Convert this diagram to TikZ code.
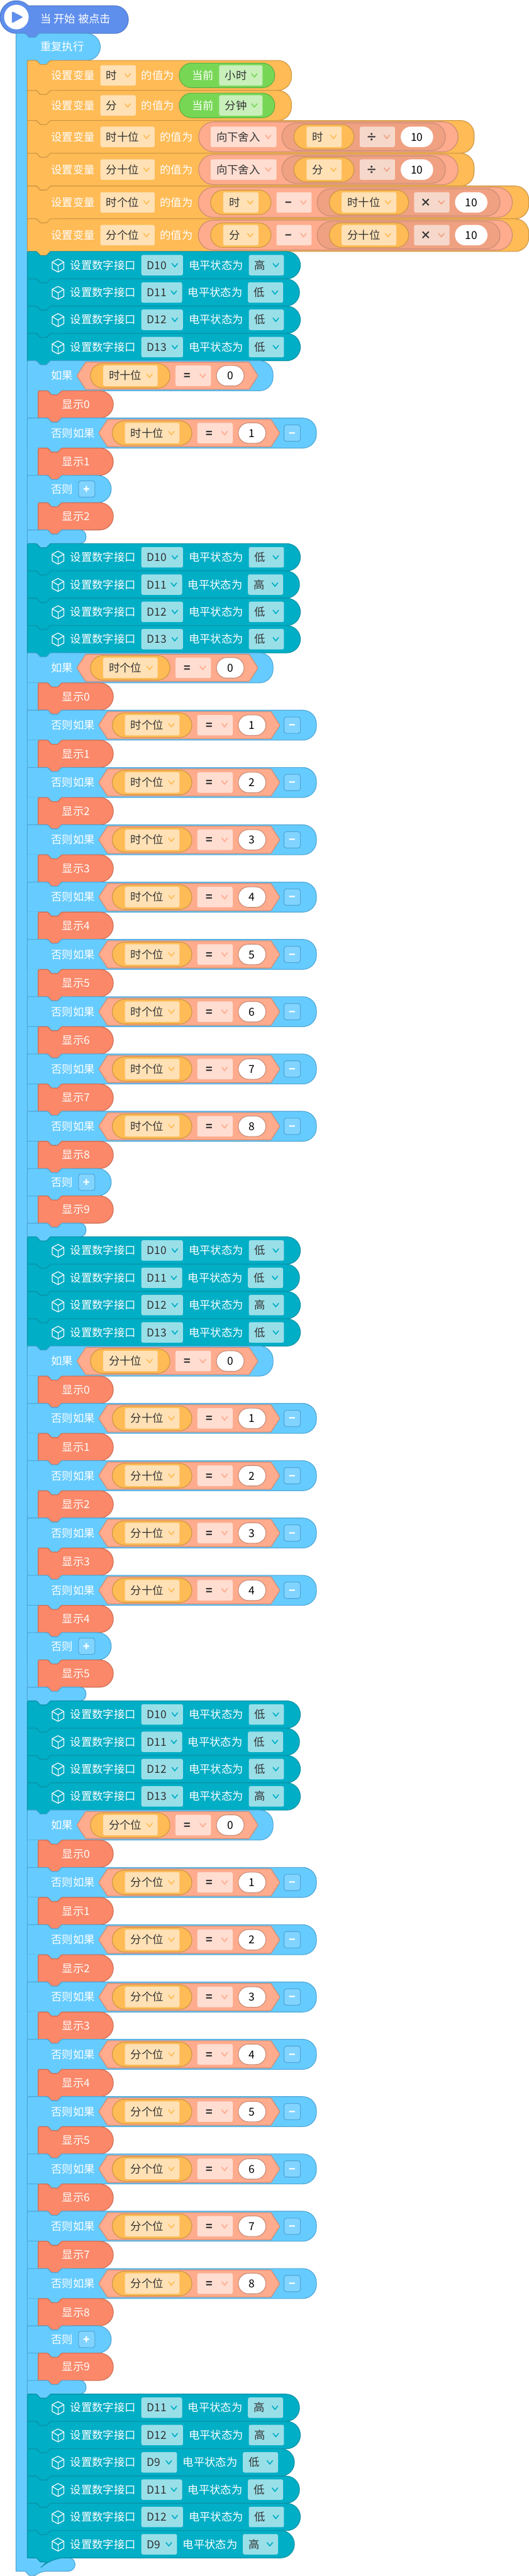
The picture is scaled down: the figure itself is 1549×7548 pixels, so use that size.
\documentclass[tikz,border=0pt]{standalone}
\usepackage{fontspec}
\setmainfont{Noto Sans CJK SC}
\definecolor{HATblue}{HTML}{5F8FEC}
\definecolor{HATline}{HTML}{4F78C8}
\definecolor{LOOPblue}{HTML}{66CCFF}
\definecolor{LOOPline}{HTML}{4FA5D5}
\definecolor{BTNblue}{HTML}{80D4FF}
\definecolor{VARorange}{HTML}{FFBB55}
\definecolor{VARline}{HTML}{CC9644}
\definecolor{VARfield}{HTML}{FFE1B5}
\definecolor{NOWgreen}{HTML}{77D755}
\definecolor{NOWline}{HTML}{5FAE44}
\definecolor{NOWfield}{HTML}{C9EFBB}
\definecolor{OPpink}{HTML}{FFAB8D}
\definecolor{OPline}{HTML}{C98B76}
\definecolor{OPfield}{HTML}{FFDDD1}
\definecolor{OPdark}{HTML}{EFA181}
\definecolor{OPdarkfield}{HTML}{F6D8CB}
\definecolor{PINteal}{HTML}{00AEC6}
\definecolor{PINline}{HTML}{0B92A6}
\definecolor{PINfield}{HTML}{99DFE8}
\definecolor{SHOWred}{HTML}{FA8869}
\definecolor{SHOWline}{HTML}{C96D54}
\definecolor{INKgray}{HTML}{333333}

\newcount\nodeno
\tikzset{
   numbered/.code={\global\advance\nodeno by 1\pgfkeysalso{name=t\the\nodeno}},
   blocktext/.style={numbered, font=\fontsize{32}{36}\selectfont, text=white, inner sep=0pt,
      anchor=west, text height=26pt, text depth=2pt},
   fieldtext/.style={blocktext, text=INKgray},
   numtext/.style={blocktext, text=black, anchor=center},
   optext/.style={blocktext, text=INKgray, anchor=center, font=\fontsize{32}{36}\selectfont\bfseries},
   btntext/.style={blocktext, anchor=center, font=\fontsize{32}{36}\selectfont\bfseries},
   chevron/.style={line width=3pt, line cap=round, line join=round},
   hatblock/.style={fill=HATblue, draw=HATline, line width=2pt, line join=round},
   loopblock/.style={fill=LOOPblue, draw=LOOPline, line width=2pt, line join=round},
   setblock/.style={fill=VARorange, draw=VARline, line width=2pt, line join=round},
   pinblock/.style={fill=PINteal, draw=PINline, line width=2pt, line join=round},
   showblock/.style={fill=SHOWred, draw=SHOWline, line width=2pt, line join=round},
   nowpill/.style={fill=NOWgreen, draw=NOWline, line width=2pt},
   varpill/.style={fill=VARorange, draw=VARline, line width=2pt},
   oppill/.style={fill=OPpink, draw=OPline, line width=2pt, line join=round},
   darkpill/.style={fill=OPdark, draw=OPline, line width=2pt},
   numpill/.style={fill=white, draw=OPline, line width=2pt},
   barepill/.style={fill=white, draw=none},
   btnbox/.style={fill=BTNblue, draw=LOOPline, line width=2pt, rounded corners=7pt},
}

% running top edge of the next block
\newcommand{\rowY}{737}
\newcommand{\rowC}{0}
\newcommand{\nextrow}[1]{\pgfmathsetmacro\rowNext{\rowY+#1}\global\let\rowY\rowNext}
\newcommand{\setcentre}[1]{\pgfmathsetmacro\rowTmp{\rowY+#1/2}\global\let\rowC\rowTmp}

% [corner] x0, y0, x1, height, notch x, tab x, style
\newcommand{\puzzle}[8][40]{
   \draw[#8] [rounded corners=3pt] (#2,{#3+#5}) -- (#2,#3) -- (#6,#3) [sharp corners]
      -- ({#6+11},{#3+12}) -- ({#6+29},{#3+12}) -- ({#6+41},#3)
      [rounded corners=#1pt] -- (#4,#3) -- (#4,{#3+#5}) -- ({#7+41},{#3+#5}) [sharp corners]
      -- ({#7+29},{#3+#5+12}) -- ({#7+11},{#3+#5+12}) -- (#7,{#3+#5}) -- cycle;
}
% x0, x1, centre, half height, style
\newcommand{\pillshape}[5]{
   \draw[#5, rounded corners=#4pt] (#1,{#3-#4}) rectangle (#2,{#3+#4});
}
% x0, x1, centre, text, field colour, chevron colour
\newcommand{\dropfield}[6]{
   \fill[#5, rounded corners=5pt] (#1,{#3-30}) rectangle (#2,{#3+30});
   \node[fieldtext] at ({#1+17},#3) {#4};
   \draw[chevron, #6] ({#2-32},{#3-5}) -- ({#2-24},{#3+5}) -- ({#2-16},{#3-5});
}
\newcommand{\opfield}[6]{
   \fill[#5, rounded corners=5pt] (#1,{#3-30}) rectangle (#2,{#3+30});
   \node[optext] at ({#1+35},#3) {#4};
   \draw[chevron, #6] ({#2-32},{#3-5}) -- ({#2-24},{#3+5}) -- ({#2-16},{#3-5});
}
% x0, x1, centre, number, style
\newcommand{\numfield}[5]{
   \pillshape{#1}{#2}{#3}{30}{#5}
   \node[numtext] at ({(#1+#2)/2},#3) {#4};
}
\newcommand{\pincube}[1]{
   \draw[white, line width=2.2pt, line join=round] (170,{#1-18}) -- (187,{#1-9}) -- (187,{#1+11})
      -- (170,{#1+20}) -- (153,{#1+11}) -- (153,{#1-9}) -- cycle;
   \draw[white, line width=2.2pt, line join=round] (153,{#1-9}) -- (170,{#1+1}) -- (187,{#1-9});
   \draw[white, line width=2.2pt] (170,{#1+1}) -- (170,{#1+20});
}
% pin, right end of the pin field, level
\newcommand{\pinrow}[3]{
   \setcentre{80}
   \puzzle{80}{\rowY}{#2+344}{80}{107}{107}{pinblock}
   \pincube{\rowC}
   \node[blocktext] at (206,\rowC) {设置数字接口};
   \dropfield{414}{#2}{\rowC}{#1}{PINfield}{PINteal}
   \node[blocktext] at ({#2+17},\rowC) {电平状态为};
   \dropfield{#2+193}{#2+296}{\rowC}{#3}{PINfield}{PINteal}
   \nextrow{80}
}
% offset, variable, number
\newcommand{\condition}[3]{
   \draw[oppill, rounded corners=2pt] ({225+#1},\rowC) -- ({251+#1},{\rowC-40}) -- ({730+#1},{\rowC-40})
      -- ({756+#1},\rowC) -- ({730+#1},{\rowC+40}) -- ({251+#1},{\rowC+40}) -- cycle;
   \pillshape{265+#1}{498+#1}{\rowC}{36}{varpill}
   \dropfield{302+#1}{462+#1}{\rowC}{#2}{VARfield}{VARorange}
   \opfield{514+#1}{618+#1}{\rowC}{=}{OPfield}{OPpink}
   \numfield{634+#1}{715+#1}{\rowC}{#3}{numpill}
}
\newcommand{\ifrow}[2]{
   \setcentre{88}
   \puzzle{80}{\rowY}{800}{88}{107}{140}{loopblock}
   \node[blocktext] at (150,\rowC) {如果};
   \condition{0}{#1}{#2}
   \nextrow{88}
}
\newcommand{\elifrow}[2]{
   \setcentre{88}
   \puzzle{80}{\rowY}{927}{87.9}{140}{140}{loopblock}
   \node[blocktext] at (150,\rowC) {否则如果};
   \condition{64}{#1}{#2}
   \draw[btnbox] (832,{\rowC-24}) rectangle (880,{\rowC+24});
   \node[btntext] at (856,\rowC) {−};
   \nextrow{87.9}
}
\newcommand{\showrow}[1]{
   \setcentre{80}
   \fill[LOOPblue] (81,\rowY) rectangle (114,{\rowY+80});
   \draw[LOOPline, line width=2pt] (80,\rowY) -- (80,{\rowY+80});
   \puzzle{112}{\rowY}{332}{80}{140}{140}{showblock}
   \node[blocktext] at (182,\rowC) {显示#1};
   \nextrow{80}
}
\newcommand{\elserow}{
   \setcentre{80}
   \puzzle{80}{\rowY}{326}{80}{140}{140}{loopblock}
   \node[blocktext] at (150,\rowC) {否则};
   \draw[btnbox] (230,{\rowC-24}) rectangle (278,{\rowC+24});
   \node[btntext] at (254,\rowC) {+};
   \nextrow{80}
}
\newcommand{\capend}{
   \puzzle[18]{80}{\rowY}{252}{40}{140}{107}{loopblock}
   \nextrow{40}
}
% height, right end, variable, right end of its field
\newcommand{\setstart}[4]{
   \setcentre{#1}
   \puzzle{80}{\rowY}{#2}{#1}{107}{107}{setblock}
   \node[blocktext] at (150,\rowC) {设置变量};
   \dropfield{294}{#4}{\rowC}{#3}{VARfield}{VARorange}
   \node[blocktext] at ({#4+16},\rowC) {的值为};
}
\newcommand{\nowrow}[2]{
   \setstart{88}{854}{#1}{398}
   \pillshape{525}{805}{\rowC}{36}{nowpill}
   \node[blocktext] at (562,\rowC) {当前};
   \dropfield{642}{769}{\rowC}{#2}{NOWfield}{NOWgreen}
   \nextrow{88}
}
\newcommand{\floorrow}[2]{
   \setstart{96}{1389}{#1}{453}
   \pillshape{582}{1342}{\rowC}{44}{oppill}
   \dropfield{617}{810}{\rowC}{向下舍入}{OPfield}{OPpink}
   \pillshape{826}{1305}{\rowC}{40}{darkpill}
   \pillshape{861}{1037}{\rowC}{36}{varpill}
   \dropfield{898}{1001}{\rowC}{#2}{VARfield}{VARorange}
   \opfield{1054}{1157}{\rowC}{÷}{OPdarkfield}{OPdark}
   \numfield{1174}{1269}{\rowC}{10}{barepill}
   \nextrow{96}
}
\newcommand{\minusrow}[3]{
   \setstart{96}{1549}{#1}{453}
   \pillshape{581}{1501}{\rowC}{44}{oppill}
   \pillshape{617}{794}{\rowC}{36}{varpill}
   \dropfield{654}{757}{\rowC}{#2}{VARfield}{VARorange}
   \opfield{810}{913}{\rowC}{−}{OPfield}{OPpink}
   \pillshape{929}{1465}{\rowC}{40}{darkpill}
   \pillshape{965}{1197}{\rowC}{36}{varpill}
   \dropfield{1001}{1161}{\rowC}{#3}{VARfield}{VARorange}
   \opfield{1213}{1317}{\rowC}{×}{OPdarkfield}{OPdark}
   \numfield{1333}{1428}{\rowC}{10}{barepill}
   \nextrow{96}
}
% variable, last test
\newcommand{\digitrow}[2]{
   \ifrow{#1}{0}
   \showrow{0}
   \foreach \n in {1,...,#2}{
      \elifrow{#1}{\n}
      \showrow{\n}
   }
   \elserow
   \pgfmathtruncatemacro\lastshow{#2+1}
   \showrow{\lastshow}
   \capend
}
\newcommand{\pinfour}[4]{
   \pinrow{D10}{536}{#1}
   \pinrow{D11}{533.5}{#2}
   \pinrow{D12}{536}{#3}
   \pinrow{D13}{536}{#4}
}

\begin{document}
\begin{tikzpicture}[x=1pt, y=-1pt]
   \useasboundingbox (0,0) rectangle (1549,7548);
   % start block
   \draw[HATline, fill=HATblue, line width=2pt] (48,50) circle[radius=48];
   \draw[hatblock] (83,17) [rounded corners=40pt] -- (376,17) -- (376,98) -- (115,98) [sharp corners]
      -- (103,110) -- (85,110) -- (74,98) -- (48,98);
   \fill[white] (48,50) circle[radius=36];
   \fill[HATblue, rounded corners=4pt] (35,33) -- (68,50) -- (35,68) -- cycle;
   \node[blocktext] (hatlabel) at (118,55) {当 开始 被点击};
   % forever loop, arm and foot in one path
   \draw[loopblock] [rounded corners=3pt] (47,7534) -- (47,98) -- (74,98) [sharp corners]
      -- (85,110) -- (103,110) -- (115,98) [rounded corners=40pt] -- (294,98) -- (294,177)
      -- (148,177) [sharp corners] -- (136,189) -- (118,189) -- (107,177) -- (80,177) -- (80,7494)
      [rounded corners=20pt] -- (220,7494) -- (220,7534) -- (115,7534) [sharp corners]
      -- (103,7546) -- (85,7546) -- (74,7534) -- cycle;
   \node[blocktext] (looplabel) at (118,137) {重复执行};
   % variables
   \renewcommand{\rowY}{177}
   \nowrow{时}{小时}
   \nowrow{分}{分钟}
   \foreach \tgt/\src in {时十位/时, 分十位/分}{\floorrow{\tgt}{\src}}
   \foreach \tgt/\src/\tens in {时个位/时/时十位, 分个位/分/分十位}{\minusrow{\tgt}{\src}{\tens}}
   % one group for each digit
   \pinfour{高}{低}{低}{低}
   \digitrow{时十位}{1}
   \pinfour{低}{高}{低}{低}
   \digitrow{时个位}{8}
   \pinfour{低}{低}{高}{低}
   \digitrow{分十位}{4}
   \pinfour{低}{低}{低}{高}
   \digitrow{分个位}{8}
   % scan pins
   \foreach \pin/\pinend/\lvl in {D11/533.5/高, D12/536/高, D9/518.5/低, D11/533.5/低, D12/536/低, D9/518.5/高}{
      \pinrow{\pin}{\pinend}{\lvl}
   }
\end{tikzpicture}
\end{document}
